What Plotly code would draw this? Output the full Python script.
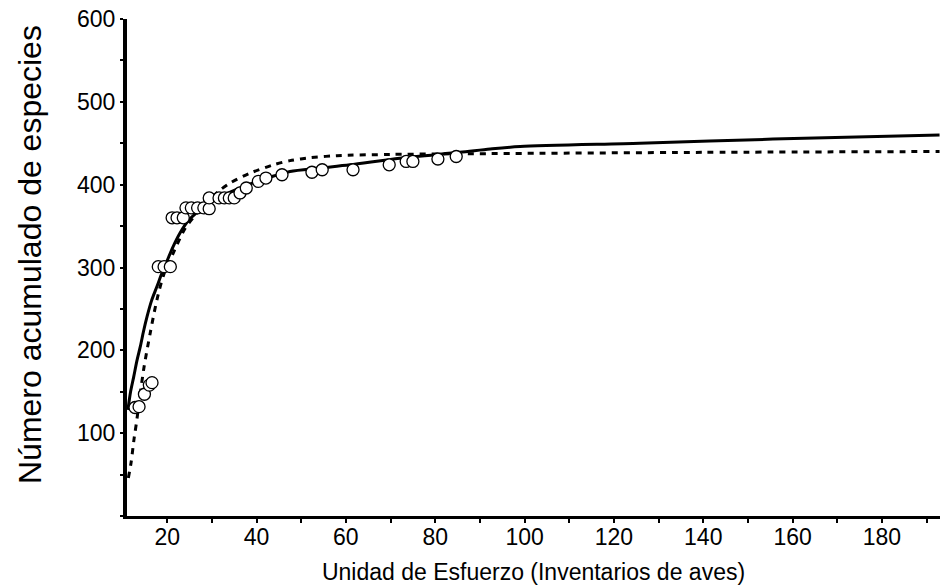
import plotly.graph_objects as go

# Observed cumulative species (open circles)
obs_x = [12.8, 13.7, 14.9, 16.0, 16.6, 18.0, 19.3, 20.7, 21.1, 22.2, 23.6,
         24.2, 25.4, 26.8, 28.2, 29.4, 29.4, 31.6, 32.8, 33.9, 35.0, 36.3,
         37.7, 40.4, 42.1, 45.7, 52.4, 54.7, 61.6, 69.7, 73.5, 75.0, 80.6, 84.7]
obs_y = [131, 132, 147, 158, 161, 301, 301, 301, 360, 360, 360,
         372, 372, 372, 372, 371, 384, 384, 384, 384, 384, 390,
         396, 404, 408, 412, 415, 418, 418, 424, 428, 428, 431, 434]

# Solid fitted curve
solid_x = [11.2, 11.8, 12.5, 13.2, 14.0, 14.7, 15.5, 16.5, 17.7, 18.8, 19.9,
           21.3, 22.9, 24.8, 27.0, 28.9, 31.5, 34.1, 38.6, 43.0, 47.5, 54.0,
           60.9, 72.1, 85.5, 92.3, 99.0, 125.8, 155.6, 192.9]
solid_y = [128, 150, 168, 187, 205, 223, 241, 260, 277, 293, 307,
           325, 342, 357, 368, 376, 384, 391, 401, 409, 416, 420,
           424, 432, 439, 443, 446, 450, 455, 460]

# Dashed fitted curve
dash_x = [11.3, 11.9, 12.6, 13.1, 14.7, 16.2, 17.7, 19.2, 21.4, 24.0, 27.4,
          31.5, 34.1, 38.6, 43.8, 47.5, 52.0, 58.0, 70.0, 92.3, 140.0, 192.9]
dash_y = [46, 64, 94, 112, 176, 221, 261, 291, 318, 347, 370,
          392, 402, 414, 424, 429, 432.5, 435, 436.5, 437.5, 439, 440]

x_ticks = [20, 40, 60, 80, 100, 120, 140, 160, 180]
y_ticks = [100, 200, 300, 400, 500, 600]

fig = go.Figure()
fig.add_trace(go.Scatter(x=solid_x, y=solid_y, mode="lines",
                         line=dict(color="black", width=3, shape="spline", smoothing=0.8),
                         showlegend=False, hoverinfo="skip"))
fig.add_trace(go.Scatter(x=dash_x, y=dash_y, mode="lines",
                         line=dict(color="black", width=3, dash="6px,6px", shape="spline", smoothing=0.8),
                         showlegend=False, hoverinfo="skip"))
fig.add_trace(go.Scatter(x=obs_x, y=obs_y, mode="markers",
                         marker=dict(symbol="circle", size=12, color="white",
                                     line=dict(color="black", width=1.3)),
                         showlegend=False))

font = "Liberation Sans, Arial, sans-serif"
fig.update_layout(
    width=941, height=587,
    margin=dict(l=127, r=1, t=19, b=71),
    paper_bgcolor="white", plot_bgcolor="white",
    font=dict(family=font, color="black"),
    xaxis=dict(range=[11, 193], tickvals=x_ticks, ticks="outside", ticklen=4,
               tickwidth=1.5, tickcolor="black", automargin=False,
               ticklabelstandoff=-6,
               showline=True, linecolor="black", linewidth=3, showgrid=False,
               zeroline=False, tickfont=dict(size=23, family=font),
               minor=dict(dtick=10, tick0=0, ticks="outside", ticklen=4, tickwidth=1.5,
                          tickcolor="black", showgrid=False),
               title=dict(text="Unidad de Esfuerzo (Inventarios de aves)",
                          font=dict(size=23, family=font), standoff=16)),
    yaxis=dict(range=[0, 600], tickvals=y_ticks, ticks="outside", ticklen=3,
               tickwidth=1.5, tickcolor="black", automargin=False,
               showline=True, linecolor="black", linewidth=4, showgrid=False,
               zeroline=False, tickfont=dict(size=23, family=font),
               minor=dict(dtick=50, tick0=0, ticks="outside", ticklen=3, tickwidth=1.5,
                          tickcolor="black", showgrid=False)),
    annotations=[dict(text="Número acumulado de especies", textangle=-90,
                      xref="paper", yref="paper", x=-(127 - 30) / 813, y=(516 - 255) / 497,
                      xanchor="center", yanchor="middle", showarrow=False,
                      font=dict(size=32, family=font, color="black"))],
)
fig.write_html("out.html", config={"displayModeBar": False},
               post_script="document.body.style.margin='0';document.body.style.overflow='hidden';")
